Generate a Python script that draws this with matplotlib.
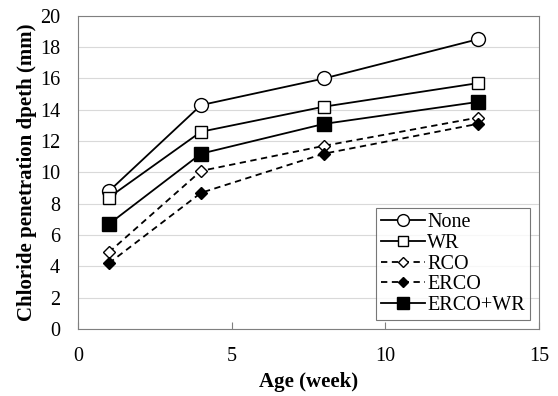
import matplotlib.pyplot as plt

plt.rcParams['font.family'] = ['Liberation Serif', 'DejaVu Serif']

age = [1, 4, 8, 13]
none = [8.8, 14.3, 16.0, 18.5]
wr = [8.4, 12.6, 14.2, 15.7]
rco = [4.9, 10.1, 11.7, 13.5]
erco = [4.2, 8.7, 11.2, 13.1]
erco_wr = [6.7, 11.2, 13.1, 14.5]

fig = plt.figure(figsize=(5.58, 3.96), dpi=100)
ax = fig.add_axes([0.14, 0.169, 0.826, 0.791])

dash = (3.5, 2.5)
ax.plot(age, none, '-', color='black', lw=1.3, marker='o', ms=10,
        mfc='white', mec='black', mew=1.0, label='None')
ax.plot(age, wr, '-', color='black', lw=1.3, marker='s', ms=9,
        mfc='white', mec='black', mew=1.0, label='WR')
ax.plot(age, rco, color='black', lw=1.3, dashes=dash, marker='D', ms=6.5,
        mfc='white', mec='black', mew=1.0, label='RCO')
ax.plot(age, erco, color='black', lw=1.3, dashes=dash, marker='D', ms=6.5,
        mfc='black', mec='black', label='ERCO')
ax.plot(age, erco_wr, '-', color='black', lw=1.3, marker='s', ms=10,
        mfc='black', mec='black', label='ERCO+WR')

ax.set_xlim(0, 15)
ax.set_ylim(0, 20)
ax.set_xticks([0, 5, 10, 15])
ax.set_yticks(range(0, 21, 2))
ax.yaxis.grid(True, color='#d9d9d9', lw=0.8)
ax.set_axisbelow(True)
for s in ax.spines.values():
    s.set_color('#7f7f7f')
    s.set_linewidth(0.8)
ax.tick_params(axis='x', direction='in', length=5, color='#7f7f7f', labelsize=14.5, pad=13)
ax.tick_params(axis='y', length=0, labelsize=14.5, pad=13)

ax.set_xlabel('Age (week)', fontsize=15, fontweight='bold', labelpad=4)
ax.set_ylabel('Chloride penetration dpeth (mm)', fontsize=15, fontweight='bold', labelpad=2)

leg = ax.legend(loc='lower right', fontsize=14.5, frameon=True, fancybox=False,
                edgecolor='#555555', handlelength=2.2, handletextpad=0.1,
                borderpad=0.25, labelspacing=0.08, borderaxespad=0.45,
                markerscale=0.85)
leg.get_frame().set_linewidth(0.8)

fig.savefig('out.png', dpi=100)
